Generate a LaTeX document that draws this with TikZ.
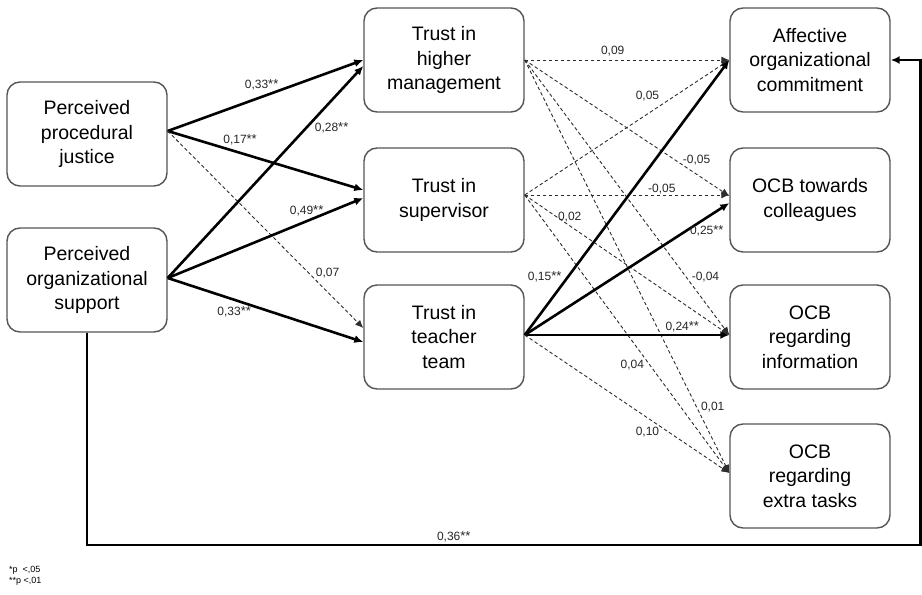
\documentclass[tikz,border=0pt]{standalone}
\usepackage{fontspec}
\setmainfont{Liberation Sans}
\usepackage{tikz}
\usetikzlibrary{arrows.meta}
\definecolor{box_grey}{RGB}{85, 85, 85}
\definecolor{dash_grey}{RGB}{45, 45, 45}
\newcommand{\twostar}{{\fontsize{13}{13}\selectfont **}}

\begin{document}
\begin{tikzpicture}[x=1pt, y=-1pt,
  var/.style={draw=box_grey, line width=1.4pt, rounded corners=13pt, minimum width=160pt, minimum height=104pt, align=center, inner sep=0pt, font=\fontsize{19.5}{24.5}\selectfont},
  sig/.style={line width=2.6pt, -{Latex[length=9pt,width=8pt]}},
  ns/.style={dash_grey, line width=0.9pt, dash pattern=on 3.5pt off 2.5pt, -{Latex[length=8pt,width=7pt]}},
  coef/.style={text=black!85, font=\fontsize{12}{12}\selectfont, inner sep=1pt}]
\useasboundingbox (0,0) rectangle (922,595);
\node[var] (ppj) at (87,134) {Perceived\\procedural\\justice};
\node[var] (pos) at (87,280) {Perceived\\organizational\\support};
\node[var] (thm) at (444,60) {Trust in\\higher\\management};
\node[var] (ts) at (444,200) {Trust in\\supervisor};
\node[var] (ttt) at (444,337) {Trust in\\teacher\\team};
\node[var] (aoc) at (810,60) {Affective\\organizational\\commitment};
\node[var] (occ) at (810,200) {OCB towards\\colleagues};
\node[var] (oci) at (810,337) {OCB\\regarding\\information};
\node[var] (oce) at (810,476) {OCB\\regarding\\extra tasks};

\draw[sig] ([yshift=3pt]ppj.east) -- (thm.west) node[coef, pos=.48, above=5pt] {0,33\twostar};
\draw[sig] ([yshift=3pt]ppj.east) -- ([yshift=10pt]ts.west) node[coef, pos=.37, above=5pt] {0,17\twostar};
\draw[ns] ([yshift=3pt]ppj.east) -- ([yshift=9pt]ttt.west) node[coef, pos=.72, right=6pt] {0,07};
\draw[sig] ([yshift=2pt]pos.east) -- ([yshift=-6pt]thm.west) node[coef, pos=.71, right=6pt] {0,28\twostar};
\draw[sig] ([yshift=2pt]pos.east) -- ([yshift=2pt]ts.west) node[coef, pos=.71, above=3pt] {0,49\twostar};
\draw[sig] ([yshift=2pt]pos.east) -- ([yshift=-5pt]ttt.west) node[coef, pos=.34, below=4pt] {0,33\twostar};

\draw[ns] (thm.east) -- (aoc.west) node[coef, pos=.43, above=3pt] {0,09};
\draw[ns] (thm.east) -- ([yshift=4pt]occ.west) node[coef, pos=.84, above=8pt] {-0,05};
\draw[ns] (thm.east) -- ([yshift=2pt]oci.west) node[coef, pos=.79, right=4pt] {-0,04};
\draw[ns] (thm.east) -- ([yshift=3pt]oce.west) node[coef, pos=.84, right=3pt] {0,01};
\draw[ns] ([yshift=5pt]ts.east) -- (aoc.west) node[coef, pos=.6, above=12pt] {0,05};
\draw[ns] ([yshift=5pt]ts.east) -- ([yshift=5pt]occ.west) node[coef, pos=.67, above=0pt] {-0,05};
\draw[ns] ([yshift=5pt]ts.east) -- ([yshift=2pt]oci.west) node[coef, pos=.22, above=2pt] {0,02};
\draw[ns] ([yshift=5pt]ts.east) -- ([yshift=3pt]oce.west) node[coef, pos=.61, left=4pt] {0,04};
\draw[sig] ([yshift=2pt]ttt.east) -- (aoc.west) node[coef, pos=.21, left=4pt] {0,15\twostar};
\draw[sig] ([yshift=2pt]ttt.east) -- ([yshift=-3pt]occ.west) node[coef, pos=.89, below=6pt] {0,25\twostar};
\draw[sig] ([yshift=2pt]ttt.east) -- ([yshift=2pt]oci.west) node[coef, pos=.77, above=1pt] {0,24\twostar};
\draw[ns] ([yshift=2pt]ttt.east) -- ([yshift=3pt]oce.west) node[coef, pos=.6, below=8pt] {0,10};

\coordinate (fb) at (920.5,545);
\draw[sig] (pos.south) |- (fb) node[coef, pos=.72, above=1pt] {0,36\twostar} |- (aoc.east);

\node[anchor=north west, align=left, inner sep=0pt, font=\fontsize{9}{11.5}\selectfont] (note) at (9,566) {*p\ \ <,05\\**p <,01};
\end{tikzpicture}
\end{document}
